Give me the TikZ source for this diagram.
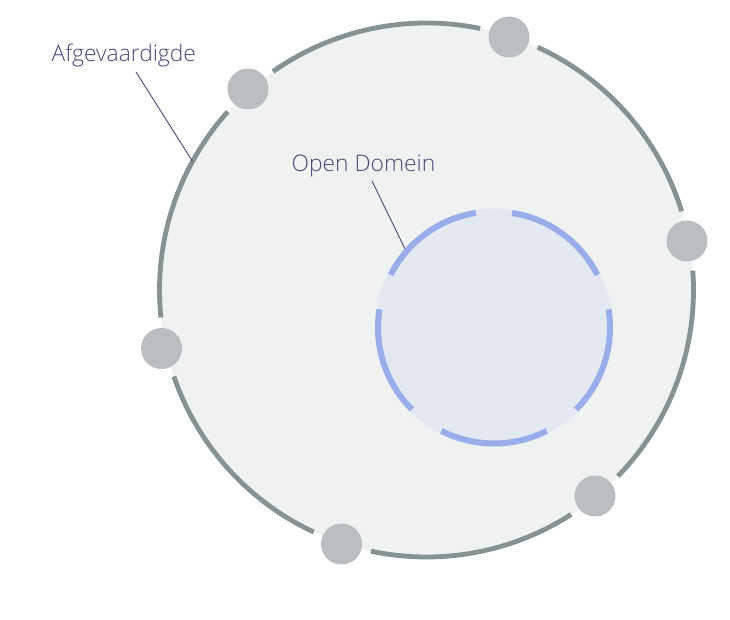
\documentclass[tikz,border=0pt]{standalone}
\usepackage{fontspec}
\usetikzlibrary{calc}
\setmainfont{Open Sans Light}
\definecolor{outerfill}{HTML}{F0F2F1}
\definecolor{outerline}{HTML}{879292}
\definecolor{dotgray}{HTML}{BABEC1}
\definecolor{innerfill}{HTML}{E4E8F1}
\definecolor{innerline}{HTML}{98ADEA}
\definecolor{labelcol}{HTML}{4A4A7E}
\tikzset{
  outerarc/.style={draw=outerline, line width=4.8pt},
  innerarc/.style={draw=innerline, line width=6pt},
  dot/.style={circle, fill=dotgray, minimum size=41pt, inner sep=0pt},
  lbl/.style={text=labelcol, inner sep=0pt, anchor=base west, font=\fontsize{22.8}{26}\selectfont},
  leader/.style={draw=labelcol, line width=0.9pt}
}
\begin{document}
\begin{tikzpicture}[x=1pt,y=1pt]
\useasboundingbox (0,0) rectangle (730,620);
\fill[white] (0,0) rectangle (730,620);
% outer circle
\coordinate (oc) at (426.5,330);
\fill[outerfill] (oc) circle[radius=267];
\foreach \a/\b in {17.15/65.4, 78.4/125.1, 138.1/185.9, 198.9/245, 258/302.8, 315.8/364.15}{
  \draw[outerarc] (oc) ++(\a:267) arc[start angle=\a, end angle=\b, radius=267];
}
% small circles
\node[dot] (d1) at (248,531) {};
\node[dot] (d2) at (509,583) {};
\node[dot] (d3) at (687,379) {};
\node[dot] (d4) at (161.5,271.5) {};
\node[dot] (d5) at (341.5,76) {};
\node[dot] (d6) at (595,124) {};
% inner circle
\coordinate (ic) at (494,292.5);
\fill[innerfill] (ic) circle[radius=119];
\foreach \a/\b in {27/81, 99/153, 171/225, 243/297, 315/369}{
  \draw[innerarc] (ic) ++(\a:116) arc[start angle=\a, end angle=\b, radius=116];
}
% labels
\node[lbl] (afg) at (51.5,558) {Afgevaardigde};
\node[lbl] (od) at (291.5,448) {Open Domein};
\coordinate (afgstart) at (136,548);
\coordinate (afgend) at ($(oc)+(151.2:267)$);
\coordinate (odstart) at (372,439);
\coordinate (odend) at ($(ic)+(138.5:119)$);
\draw[leader] (afgstart) -- (afgend);
\draw[leader] (odstart) -- (odend);
\end{tikzpicture}
\end{document}
